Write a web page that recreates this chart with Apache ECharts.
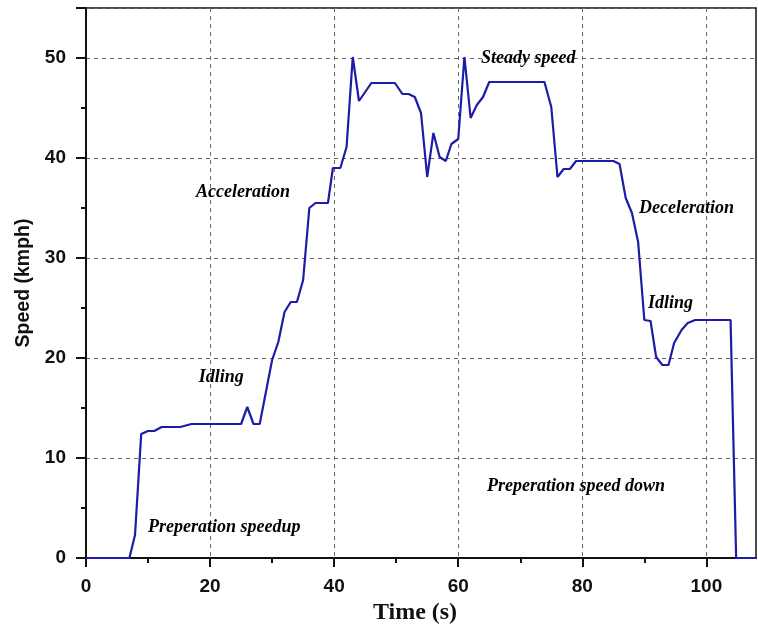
<!DOCTYPE html>
<html>
<head>
<meta charset="utf-8">
<script src="https://cdn.jsdelivr.net/npm/echarts@6/dist/echarts.min.js"></script>
<style>
  html, body { margin: 0; padding: 0; background: #fff; }
  #main { width: 758px; height: 624px; }
</style>
</head>
<body>
<div id="main"></div>
<script>
// drive cycle, time (s) vs speed (kmph)
var timeS = [0, 7, 7.9, 8.9, 10, 11, 12.2, 13.2, 15.2, 17, 20, 25, 26, 27, 28,
  30, 31, 32, 33, 34, 35, 36, 37, 39, 39.8, 41, 42, 43, 44, 46, 49.8, 51, 52, 53, 54,
  55, 56, 57, 58, 58.9, 60, 61, 62, 63, 64, 65, 73.9, 75, 76, 77, 78, 79, 85, 86, 87,
  88, 89, 90, 91, 91.9, 92.9, 93.9, 94.8, 96, 97, 98.2, 103.9, 104.8, 108];
var speed = [0, 0, 2.3, 12.4, 12.7, 12.7, 13.1, 13.1, 13.1, 13.4, 13.4, 13.4, 15.1, 13.4, 13.4,
  19.8, 21.6, 24.6, 25.6, 25.6, 27.8, 35, 35.5, 35.5, 39, 39, 41.1, 50.1, 45.7, 47.5, 47.5, 46.4, 46.4, 46.1, 44.5,
  38.1, 42.5, 40.1, 39.7, 41.4, 41.9, 50.1, 44, 45.3, 46.1, 47.6, 47.6, 45.1, 38.1, 38.9, 38.9, 39.7, 39.7, 39.4, 36,
  34.5, 31.6, 23.8, 23.7, 20.1, 19.3, 19.3, 21.5, 22.8, 23.5, 23.8, 23.8, 0, 0];

var xTicks = [0, 20, 40, 60, 80, 100];

// phase annotations [time, speed, text]
var notes = [
  [22.3, 3.1, 'Preperation speedup'],
  [21.8, 18.1, 'Idling'],
  [25.3, 36.6, 'Acceleration'],
  [71.3, 50.0, 'Steady speed'],
  [96.8, 35.0, 'Deceleration'],
  [94.2, 25.5, 'Idling'],
  [79.0, 7.2, 'Preperation speed down']
];

var chart = echarts.init(document.getElementById('main'));

var lineData = timeS.map(function (t, i) { return [t, speed[i]]; });

var tickLabel = { color: '#111', fontFamily: 'Liberation Sans, Arial', fontWeight: 'bold', fontSize: 19 };
var dashGrid = { show: true, lineStyle: { color: '#666', type: [4, 4], width: 1 } };

chart.setOption({
  animation: false,
  grid: {
    left: 86, right: 2, top: 8, bottom: 66, outerBoundsMode: 'none', containLabel: false,
    show: true, borderColor: '#111', borderWidth: 1.5
  },
  xAxis: {
    type: 'value', min: 0, max: 108, interval: 20,
    name: 'Time (s)', nameLocation: 'middle', nameGap: 32,
    nameTextStyle: {
      fontFamily: 'Liberation Serif, Times New Roman', fontWeight: 'bold', fontSize: 24, color: '#111',
      padding: [0, 12, 0, 0]
    },
    axisLine: { show: true, lineStyle: { color: '#111', width: 2 } },
    axisTick: { show: true, length: 9, customValues: xTicks, lineStyle: { color: '#111', width: 2 } },
    minorTick: { show: true, splitNumber: 2, length: 5, lineStyle: { color: '#111', width: 2 } },
    axisLabel: Object.assign({ margin: 19, showMaxLabel: false }, tickLabel),
    splitLine: dashGrid
  },
  yAxis: {
    type: 'value', min: 0, max: 55, interval: 10,
    name: 'Speed (kmph)', nameLocation: 'middle', nameGap: 52,
    nameTextStyle: { fontFamily: 'Liberation Sans, Arial', fontWeight: 'bold', fontSize: 19.5, color: '#111' },
    axisLine: { show: true, lineStyle: { color: '#111', width: 2 } },
    axisTick: { show: true, length: 10, lineStyle: { color: '#111', width: 2 } },
    minorTick: { show: true, splitNumber: 2, length: 5, lineStyle: { color: '#111', width: 2 } },
    axisLabel: Object.assign({ margin: 20, showMaxLabel: false }, tickLabel),
    splitLine: dashGrid
  },
  series: [
    {
      type: 'line', data: lineData, showSymbol: false, symbol: 'none',
      lineStyle: { color: '#1c1ca8', width: 2.2 }, z: 3
    },
    {
      type: 'scatter', symbolSize: 0, silent: true, z: 4,
      data: notes.map(function (n) { return { value: [n[0], n[1]], name: n[2] }; }),
      label: {
        show: true, position: 'inside', formatter: '{b}',
        fontFamily: 'Liberation Serif, Times New Roman', fontStyle: 'italic', fontWeight: 'bold',
        fontSize: 18, color: '#000', textBorderWidth: 0, opacity: 1
      }
    }
  ]
});
</script>
</body>
</html>
